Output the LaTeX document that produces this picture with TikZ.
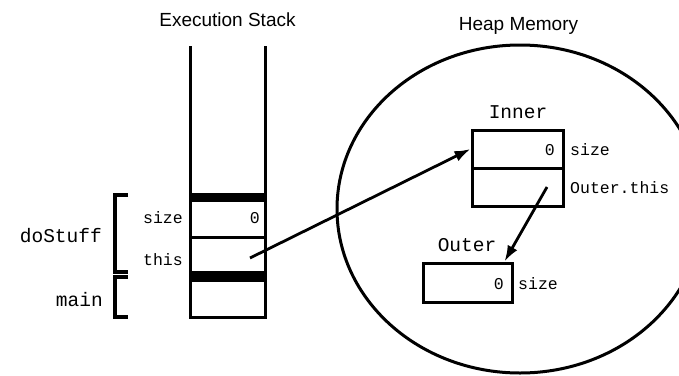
\documentclass[tikz,border=0pt]{standalone}
\usepackage{fontspec}
\setmainfont{Liberation Sans}
\setmonofont{Liberation Mono}
\usetikzlibrary{arrows.meta,calc}

\begin{document}
\begin{tikzpicture}[x=1pt,y=-1pt,>={Latex[length=16pt,width=11pt]}]
  \tikzstyle{cell}=[draw,line width=3pt,inner sep=0pt,minimum width=75pt]
  \tikzstyle{objcell}=[draw,line width=3pt,inner sep=0pt,minimum width=91pt,minimum height=38pt]
  \tikzstyle{var}=[font=\ttfamily\fontsize{16.5}{18}\selectfont,inner sep=0pt]
  \tikzstyle{frame}=[font=\ttfamily\fontsize{19.5}{22}\selectfont,inner sep=0pt]
  \tikzstyle{title}=[font=\fontsize{19}{21}\selectfont,inner sep=0pt]
  \tikzstyle{ptr}=[->,line width=2.8pt]
  \useasboundingbox (0,0) rectangle (679,375);

  % titles
  \node[title] (stacktitle) at (227.5,20) {Execution Stack};
  \node[title] (heaptitle) at (518.5,26) {Heap Memory};

  % execution stack
  \draw[line width=3pt] (190,46) -- (190,195) (265,46) -- (265,195);
  \node[cell,minimum height=37pt] (sizecell) at (227.5,218.5) {};
  \node[cell,minimum height=35pt] (thiscell) at (227.5,254.5) {};
  \node[cell,minimum height=37pt] (maincell) at (227.5,298.5) {};
  \foreach \y in {193,272}{\fill (188.5,\y) rectangle (266.5,\y+8);}
  \node[var,anchor=east] (sizelbl) at (183,218) {size};
  \node[var,anchor=east] (thislbl) at (183,260) {this};
  \node[var,anchor=east] (sizeval) at (260,218) {0};
  \coordinate (thisref) at (250,258);

  % frame brackets
  \draw[line width=3.5pt] (128,195) -- (115,195) -- (115,272) -- (128,272);
  \draw[line width=3.5pt] (128,277) -- (115,277) -- (115,317) -- (128,317);
  \node[frame,anchor=east] (dostuff) at (102,236) {doStuff};
  \node[frame,anchor=east] (mainlbl) at (103,300) {main};

  % heap
  \begin{scope}
    \clip (0,0) rectangle (679,375);
    \draw[line width=3pt] (520,209) ellipse [x radius=183,y radius=164];
  \end{scope}

  % Inner object
  \node[frame] (innerlbl) at (518,112) {Inner};
  \node[objcell] (innersize) at (517.5,149) {};
  \node[objcell] (innerouter) at (517.5,187.5) {};
  \node[var,anchor=east] (innerval) at (555,150) {0};
  \node[var,anchor=west] (innersizelbl) at (570,150) {size};
  \node[var,anchor=west] (outerthislbl) at (570,188) {Outer.this};
  \coordinate (outerref) at (547,187);

  % Outer object
  \node[frame] (outerlbl) at (467,245) {Outer};
  \node[objcell,minimum width=89pt,minimum height=39pt] (outerbox) at (467.5,282.5) {};
  \node[var,anchor=east] (outerval) at (504,284) {0};
  \node[var,anchor=west] (outersizelbl) at (518,284) {size};

  % references
  \draw[ptr] (thisref) -- (innersize.west);
  \draw[ptr] (outerref) -- ($(outerbox.north east)+(-9,0)$);
\end{tikzpicture}
\end{document}
